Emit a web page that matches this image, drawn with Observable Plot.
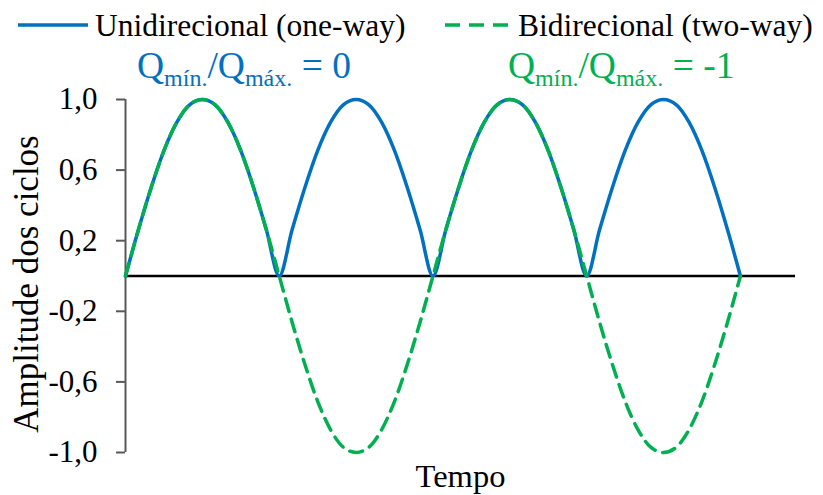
<!DOCTYPE html>
<html><head><meta charset="utf-8">
<script src="https://cdn.jsdelivr.net/npm/d3@7"></script>
<script src="https://cdn.jsdelivr.net/npm/@observablehq/plot@0.6"></script>
<style>
body{margin:0;background:#fff;}
#wrap{position:relative;width:823px;height:495px;}
#wrap svg{position:absolute;left:0;top:0;}
#wrap svg text{font-family:"Liberation Serif","Times New Roman",serif;}
</style></head><body><div id="wrap"></div>
<script>
// time in twelfths of a half-cycle (4 half-cycles shown)
const tempo = [0,1,2,3,4,5,6,7,8,9,10,11,12,13,14,15,16,17,18,19,20,21,22,23,24,25,26,27,28,29,30,31,32,33,34,35,36,37,38,39,40,41,42,43,44,45,46,47,48];
const unidirecional = [0,0.26,0.5,0.71,0.87,0.97,1,0.97,0.87,0.71,0.5,0.26,
  0,0.26,0.5,0.71,0.87,0.97,1,0.97,0.87,0.71,0.5,0.26,
  0,0.26,0.5,0.71,0.87,0.97,1,0.97,0.87,0.71,0.5,0.26,
  0,0.26,0.5,0.71,0.87,0.97,1,0.97,0.87,0.71,0.5,0.26,0];
const bidirecional = [0,0.26,0.5,0.71,0.87,0.97,1,0.97,0.87,0.71,0.5,0.26,
  0,-0.26,-0.5,-0.71,-0.87,-0.97,-1,-0.97,-0.87,-0.71,-0.5,-0.26,
  0,0.26,0.5,0.71,0.87,0.97,1,0.97,0.87,0.71,0.5,0.26,
  0,-0.26,-0.5,-0.71,-0.87,-0.97,-1,-0.97,-0.87,-0.71,-0.5,-0.26,0];
const yTicks = [-1,-0.6,-0.2,0.2,0.6,1];
const seriesNames = ["Unidirecional (one-way)","Bidirecional (two-way)"];
const colors = ["#0070C0","#00B050"];
const ratioLabels = ["0","-1"];

const data = tempo.map((t,i)=>({t, u: unidirecional[i], b: bidirecional[i]}));
const FONT = '"Liberation Serif", "Times New Roman", serif';

const chart = Plot.plot({
  width: 823, height: 495,
  marginTop: 99, marginBottom: 43, marginLeft: 125, marginRight: 28,
  x: {domain: [0, 52.3], axis: null},
  y: {domain: [-1, 1], axis: null},
  style: {fontSize: "31px", background: "white", color: "black"},
  marks: [
    Plot.ruleY([0], {stroke: "black", strokeWidth: 2.5}),
    Plot.ruleX([0], {stroke: "#595959", strokeWidth: 2}),
    Plot.axisY({ticks: yTicks, tickFormat: d => d.toFixed(1).replace(".", ","), tickSize: 9, tickPadding: 19,
      stroke: "#595959", strokeWidth: 2, fill: "black", fontSize: 31, fontFamily: FONT, label: null}),
    Plot.line(data, {x: "t", y: "u", stroke: colors[0], strokeWidth: 3.5, curve: "monotone-x"}),
    Plot.line(data, {x: "t", y: "b", stroke: colors[1], strokeWidth: 3.5, strokeDasharray: "13,8", curve: "monotone-x"}),
    Plot.text(["Amplitude dos ciclos"], {text: d => d, frameAnchor: "left", textAnchor: "middle", dx: -99, dy: 8, rotate: -90, fontSize: 35, fontFamily: FONT, fill: "black"}),
    Plot.text(["Tempo"], {text: d => d, frameAnchor: "bottom", textAnchor: "middle", dy: 34, fontSize: 32.5, fontFamily: FONT, fill: "black"})
  ]
});
const wrap = document.getElementById("wrap");
wrap.appendChild(chart);

// legend + annotations overlay
const ov = d3.select(wrap).append("svg").attr("width", 823).attr("height", 495)
  .style("pointer-events", "none").attr("font-family", FONT);
const legX = [[18, 88, 95], [445, 515, 518]];
seriesNames.forEach((name, i) => {
  ov.append("line").attr("x1", legX[i][0]).attr("x2", legX[i][1]).attr("y1", 25).attr("y2", 25)
    .attr("stroke", colors[i]).attr("stroke-width", 3.5)
    .attr("stroke-dasharray", i === 1 ? "15,9" : null);
  ov.append("text").attr("x", legX[i][2]).attr("y", 36).attr("font-size", 31.5).attr("fill", "black").text(name);
});
const annX = [137, 508];
ratioLabels.forEach((v, i) => {
  const t = ov.append("text").attr("x", annX[i]).attr("y", 78).attr("fill", colors[i]).attr("font-size", 37.5);
  t.append("tspan").text("Q");
  t.append("tspan").attr("font-size", 24).attr("dy", 8).text("mín.");
  t.append("tspan").attr("dy", -8).text("/Q");
  t.append("tspan").attr("font-size", 24).attr("dy", 8).text("máx.");
  t.append("tspan").attr("dy", -8).text(" = " + v);
});
</script>
</body></html>
